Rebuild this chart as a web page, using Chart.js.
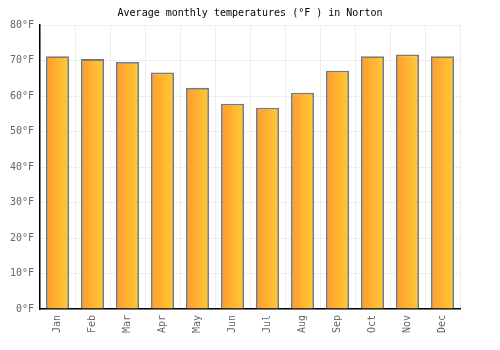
<!DOCTYPE html>
<html>
<head>
<meta charset="utf-8">
<script src="https://cdn.jsdelivr.net/npm/chart.js@4.4.0/dist/chart.umd.min.js"></script>
<style>
  html, body { margin: 0; padding: 0; background: #fff; }
  #wrap { width: 500px; height: 350px; }
</style>
</head>
<body>
<div id="wrap"><canvas id="myChart"></canvas></div>
<script>
// months along the x axis
var months = ['Jan', 'Feb', 'Mar', 'Apr', 'May', 'Jun', 'Jul', 'Aug', 'Sep', 'Oct', 'Nov', 'Dec'];
// average temperature per month
var temps = [71.2, 70.4, 69.6, 66.6, 62.3, 57.8, 56.7, 60.9, 67.1, 71.2, 71.7, 71.2];
// y tick values
var yTicks = [0, 10, 20, 30, 40, 50, 60, 70, 80];

var font = 'DejaVu Sans Mono';

//horizontal orange to yellow fill for each bar
function barFill(c) {
    var chart = c.chart;
    var xs = chart.scales.x;
    if (!xs || c.dataIndex === undefined) return '#ffb030';
    var mid = xs.getPixelForValue(c.dataIndex);
    if (!isFinite(mid)) return '#ffb030';
    var half = 12;
    var g = chart.ctx.createLinearGradient(mid - half, 0, mid + half, 0);
    g.addColorStop(0, '#ff9a2e');
    g.addColorStop(1, '#ffcc33');
    return g;
}

var ctx = document.getElementById('myChart').getContext('2d');
var myChart = new Chart(ctx, {
    type: 'bar',
    data: {
        labels: months,
        datasets: [{
            label: 'Temperature',
            data: temps,
            backgroundColor: barFill,
            borderColor: '#7a7a7a',
            borderWidth: 1.8,
            categoryPercentage: 1,
            barPercentage: 0.66
        }]
    },
    options: {
        responsive: true,
        maintainAspectRatio: false,
        animation: false,
        plugins: {
            legend: { display: false },
            tooltip: { enabled: false },
            title: {
                display: true,
                text: 'Average monthly temperatures (°F ) in Norton',
                color: '#000',
                font: { family: font, size: 10, weight: 'normal' },
                padding: { top: 7, bottom: 6 }
            }
        },
        scales: {
            x: {
                afterFit: function (s) { s.height = 41; },
                grid: { color: '#eeeeee', drawTicks: false },
                border: { color: '#000', width: 1.5 },
                ticks: {
                    color: '#666',
                    font: { family: font, size: 10 },
                    maxRotation: 90,
                    minRotation: 90,
                    padding: 6
                }
            },
            y: {
                min: 0,
                max: 80,
                afterFit: function (s) { s.width = 40; },
                afterBuildTicks: function (s) {
                    s.ticks = yTicks.map(function (v) { return { value: v }; });
                },
                grid: { color: '#eeeeee', drawTicks: false },
                border: { color: '#000', width: 1.5 },
                ticks: {
                    color: '#666',
                    font: { family: font, size: 10 },
                    padding: 6,
                    callback: function (v) { return v + '°F'; }
                }
            },
            // empty right side spacer so the title stays centred on the canvas
            yRight: {
                position: 'right',
                min: 0,
                max: 80,
                afterFit: function (s) { s.width = 40; },
                grid: { display: false },
                border: { display: false },
                ticks: { display: false }
            }
        }
    }
});
</script>
</body>
</html>
